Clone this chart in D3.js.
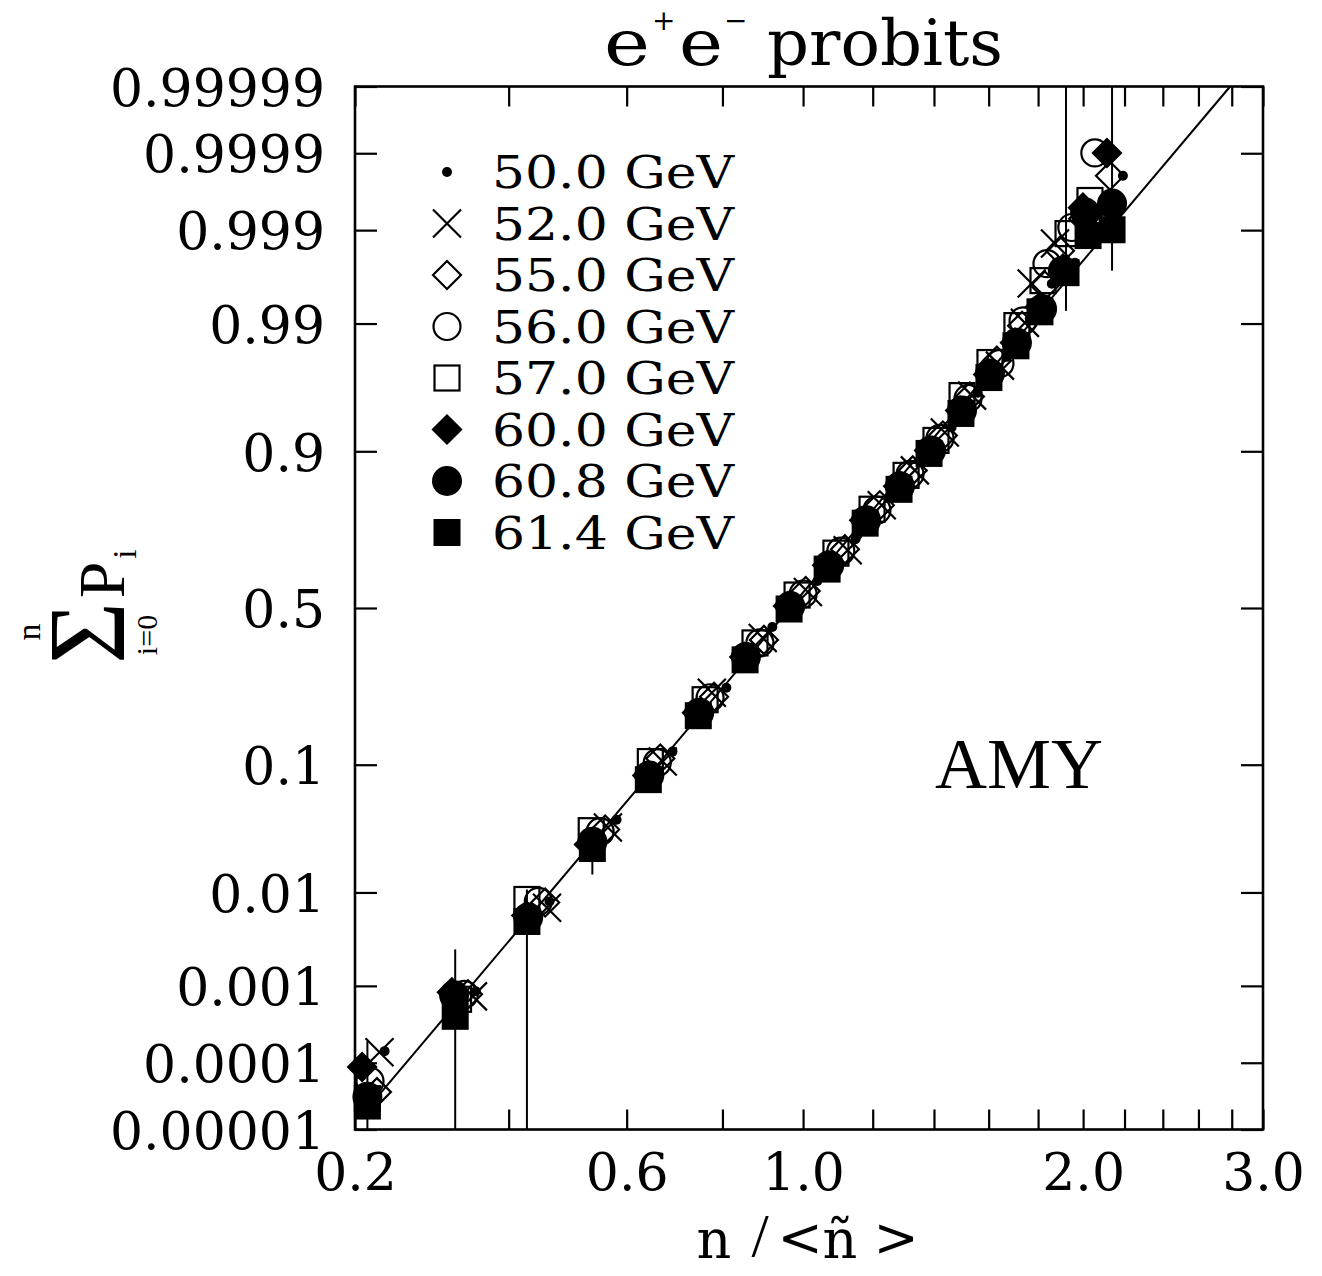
<!DOCTYPE html>
<html><head><meta charset="utf-8">
<script src="https://cdn.jsdelivr.net/npm/d3@7"></script>
<style>body{margin:0;background:#fff}</style>
</head><body>
<svg id="c" width="1322" height="1276" xmlns="http://www.w3.org/2000/svg"></svg>
<script>
// ---------------- data ----------------
const seriesNames = ["50.0 GeV","52.0 GeV","55.0 GeV","56.0 GeV","57.0 GeV","60.0 GeV","60.8 GeV","61.4 GeV"];
const seriesSymbols = ["dot","cross","diamondOpen","circleOpen","squareOpen","diamondFilled","circleFilled","squareFilled"];

// x = n/<n>, y = cumulative probability sum_{i=0}^{n} P_i
const z50 = [0.234,0.352,0.464,0.581,0.691,0.809,0.920,1.039,1.148,1.253,1.361,1.462,1.558,1.671,1.765,1.859,1.962,2.070,2.192];
const p50 = [1.45e-4,8.6e-4,8.2e-3,0.0417,0.1201,0.2571,0.4384,0.5872,0.7132,0.8175,0.8832,0.9301,0.9609,0.9800,0.99098,0.9960,0.99763,0.99935,0.999796];

const z52 = [0.228,0.348,0.460,0.565,0.671,0.776,0.896,1.013,1.125,1.228,1.335,1.438,1.537,1.644,1.745,1.773,1.873];
const p52 = [1.40e-4,7.46e-4,7.12e-3,0.0363,0.1046,0.2439,0.4034,0.5519,0.6819,0.7995,0.8698,0.9244,0.9588,0.97628,0.99015,0.99602,0.99856];

const z55 = [0.225,0.341,0.457,0.560,0.666,0.781,0.899,1.007,1.117,1.222,1.328,1.431,1.529,1.632,1.733,1.829,1.895,2.000,2.128];
const p55 = [3.76e-5,7.9e-4,8.0e-3,0.0350,0.1091,0.2340,0.3971,0.5551,0.6848,0.7995,0.8698,0.9209,0.9581,0.97845,0.9895,0.99582,0.99826,0.99927,0.999796];

const z56 = [0.217,0.336,0.446,0.551,0.660,0.772,0.889,1.000,1.105,1.213,1.319,1.421,1.522,1.644,1.737,1.838,1.948,2.055];
const p56 = [5.45e-5,7.9e-4,8.2e-3,0.0337,0.1031,0.2315,0.3876,0.5455,0.6790,0.7881,0.8629,0.9173,0.9567,0.97725,0.99057,0.99757,0.99907,0.999901];

const z57 = [0.214,0.328,0.428,0.535,0.646,0.761,0.877,0.984,1.091,1.198,1.306,1.407,1.500,1.605,1.712,1.821,1.931,2.032];
const p57 = [3.0e-5,6.87e-4,8.57e-3,0.0343,0.1046,0.2266,0.3876,0.5422,0.6731,0.7904,0.8610,0.9147,0.9588,0.97765,0.98954,0.99629,0.9989,0.99957];

const z60 = [0.208,0.319,0.427,0.531,0.640,0.743,0.851,0.960,1.066,1.174,1.280,1.383,1.493,1.598,1.704,1.808,1.908,1.999,2.113];
const p60 = [8.7e-5,8.36e-4,5.96e-3,0.0265,0.0853,0.1960,0.3446,0.5065,0.6370,0.7636,0.8403,0.9013,0.9469,0.97189,0.9850,0.9931,0.99724,0.99947,0.999901];

const z608 = [0.214,0.322,0.430,0.537,0.644,0.748,0.855,0.966,1.072,1.180,1.286,1.390,1.500,1.605,1.712,1.817,1.908,2.009,2.138];
const p608 = [3.2e-5,7.7e-4,5.69e-3,0.0280,0.0853,0.1960,0.3446,0.5065,0.6370,0.7636,0.8403,0.9013,0.9469,0.97238,0.98497,0.99278,0.9971,0.99939,0.99953];

const z614 = [0.214,0.3235,0.428,0.537,0.642,0.746,0.853,0.963,1.066,1.177,1.283,1.383,1.496,1.601,1.708,1.808,1.922,2.023,2.138];
const p614 = [2.32e-5,4.2e-4,5.18e-3,0.0246,0.0802,0.1892,0.3358,0.4967,0.6248,0.7561,0.8341,0.8969,0.9442,0.97025,0.9840,0.99229,0.99695,0.99884,0.99901];
// error bars (61.4 GeV), null = not visible
const errLo614 = [0,0,0,0.01464,null,null,null,null,null,null,null,null,null,null,null,null,0.99245,null,0.9971];
const errHi614 = [1.98e-4,2.62e-3,1.066e-2,0.0319,null,null,null,null,null,null,null,null,null,null,null,null,1,null,1];

const seriesZ = [z50,z52,z55,z56,z57,z60,z608,z614];
const seriesP = [p50,p52,p55,p56,p57,p60,p608,p614];

// fitted straight line (end points)
const fitZ = [0.215, 2.79];
const fitP = [2.19e-5, 0.99999];

// axes
const xOffset = 0.37;
const xTickValues = [0.2,0.4,0.6,0.8,1.0,1.2,1.4,1.6,1.8,2.0,2.2,2.4,2.6,2.8,3.0];
const xLabelValues = [0.2,0.6,1.0,2.0,3.0];
const xLabelText = ["0.2","0.6","1.0","2.0","3.0"];
const yTickValues = [0.00001,0.0001,0.001,0.01,0.1,0.5,0.9,0.99,0.999,0.9999,0.99999];
const yTickLabels = ["0.00001","0.0001","0.001","0.01","0.1","0.5","0.9","0.99","0.999","0.9999","0.99999"];

// ---------------- helpers ----------------
function probit(p){
  const a=[-3.969683028665376e+01,2.209460984245205e+02,-2.759285104469687e+02,1.383577518672690e+02,-3.066479806614716e+01,2.506628277459239e+00];
  const b=[-5.447609879822406e+01,1.615858368580409e+02,-1.556989798598866e+02,6.680131188771972e+01,-1.328068155288572e+01];
  const c=[-7.784894002430293e-03,-3.223964580411365e-01,-2.400758277161838e+00,-2.549732539343734e+00,4.374664141464968e+00,2.938163982698783e+00];
  const d=[7.784695709041462e-03,3.224671290700398e-01,2.445134137142996e+00,3.754408661907416e+00];
  p = Math.min(Math.max(p,1e-12),1-1e-12);
  const pl=0.02425, ph=1-pl;
  if(p<pl){const q=Math.sqrt(-2*Math.log(p));return (((((c[0]*q+c[1])*q+c[2])*q+c[3])*q+c[4])*q+c[5])/((((d[0]*q+d[1])*q+d[2])*q+d[3])*q+1);}
  if(p<=ph){const q=p-0.5,r=q*q;return (((((a[0]*r+a[1])*r+a[2])*r+a[3])*r+a[4])*r+a[5])*q/(((((b[0]*r+b[1])*r+b[2])*r+b[3])*r+b[4])*r+1);}
  const q=Math.sqrt(-2*Math.log(1-p));return -(((((c[0]*q+c[1])*q+c[2])*q+c[3])*q+c[4])*q+c[5])/((((d[0]*q+d[1])*q+d[2])*q+d[3])*q+1);
}

const svg = d3.select("#c");
const L=355, R=1263, T=86.5, B=1129.5;
const xs = d3.scaleLog().domain([xTickValues[0]+xOffset, xTickValues[xTickValues.length-1]+xOffset]).range([L,R]);
const X = z => xs(z + xOffset);
const ys = d3.scaleLinear().domain([probit(yTickValues[0]), probit(yTickValues[yTickValues.length-1])]).range([B,T]).clamp(true);
const Y = p => ys(probit(p));

const INK = "#000";
const numFont = "'DejaVu Serif', serif";

function marker(g, type, cx, cy){
  const sw = 2.2;
  switch(type){
    case "dot": g.append("circle").attr("cx",cx).attr("cy",cy).attr("r",5).attr("fill",INK); break;
    case "cross": {
      const h=14;
      g.append("path").attr("d",`M${cx-h},${cy-h}L${cx+h},${cy+h}M${cx-h},${cy+h}L${cx+h},${cy-h}`).attr("stroke",INK).attr("stroke-width",sw).attr("fill","none"); break; }
    case "diamondOpen": case "diamondFilled": {
      const h=14;
      g.append("path").attr("d",`M${cx},${cy-h}L${cx+h},${cy}L${cx},${cy+h}L${cx-h},${cy}Z`)
        .attr("fill", type==="diamondFilled"?INK:"none").attr("stroke",INK).attr("stroke-width",sw); break; }
    case "circleOpen": g.append("circle").attr("cx",cx).attr("cy",cy).attr("r",13.5).attr("fill","none").attr("stroke",INK).attr("stroke-width",sw); break;
    case "circleFilled": g.append("circle").attr("cx",cx).attr("cy",cy).attr("r",15).attr("fill",INK); break;
    case "squareOpen": { const h=12.5; g.append("rect").attr("x",cx-h).attr("y",cy-h).attr("width",2*h).attr("height",2*h).attr("fill","none").attr("stroke",INK).attr("stroke-width",sw); break; }
    case "squareFilled": { const h=13.5; g.append("rect").attr("x",cx-h).attr("y",cy-h).attr("width",2*h).attr("height",2*h).attr("fill",INK); break; }
  }
}

// ---------------- axes ----------------
const gx = svg.append("g").attr("transform",`translate(0,${B})`)
  .call(d3.axisBottom(xs).tickValues(xTickValues.map(v=>v+xOffset)).tickSize(-20).tickPadding(0)
    .tickFormat(v=>{const i=xLabelValues.findIndex(l=>Math.abs(l+xOffset-v)<1e-6);return i>=0?xLabelText[i]:"";}));
gx.select(".domain").remove();
gx.selectAll(".tick line").attr("stroke",INK).attr("stroke-width",2.2);
gx.selectAll(".tick text").attr("y",60).attr("dy",0).attr("font-family",numFont).attr("font-size",52).attr("fill",INK);

const gxt = svg.append("g").attr("transform",`translate(0,${T})`)
  .call(d3.axisTop(xs).tickValues(xTickValues.map(v=>v+xOffset)).tickSize(-20).tickFormat(""));
gxt.select(".domain").remove();
gxt.selectAll(".tick line").attr("stroke",INK).attr("stroke-width",2.2);

const gy = svg.append("g").attr("transform",`translate(${L},0)`)
  .call(d3.axisLeft(ys).tickValues(yTickValues.map(probit)).tickSize(-22).tickPadding(30)
    .tickFormat((d,i)=>yTickLabels[i]));
gy.select(".domain").remove();
gy.selectAll(".tick line").attr("stroke",INK).attr("stroke-width",2.2);
gy.selectAll(".tick text").attr("dy","0.36em").attr("font-family",numFont).attr("font-size",52).attr("fill",INK);

const gyr = svg.append("g").attr("transform",`translate(${R},0)`)
  .call(d3.axisRight(ys).tickValues(yTickValues.map(probit)).tickSize(-22).tickFormat(""));
gyr.select(".domain").remove();
gyr.selectAll(".tick line").attr("stroke",INK).attr("stroke-width",2.2);

svg.append("rect").attr("x",L).attr("y",T).attr("width",R-L).attr("height",B-T)
  .attr("fill","none").attr("stroke",INK).attr("stroke-width",2.6);

// ---------------- fit line ----------------
const plot = svg.append("g");
plot.append("path").datum(fitZ.map((z,i)=>[z,fitP[i]]))
  .attr("d", d3.line().x(d=>X(d[0])).y(d=>Y(d[1])))
  .attr("fill","none").attr("stroke",INK).attr("stroke-width",2);

// error bars
z614.forEach((z,i)=>{
  if(errLo614[i]===null) return;
  plot.append("line").attr("x1",X(z)).attr("x2",X(z)).attr("y1",Y(errLo614[i])).attr("y2",Y(errHi614[i]))
    .attr("stroke",INK).attr("stroke-width",2);
});

// markers
seriesZ.forEach((zs,s)=>{
  const g = plot.append("g");
  zs.forEach((z,i)=> marker(g, seriesSymbols[s], X(z), Y(seriesP[s][i])));
});

// ---------------- legend ----------------
const lg = svg.append("g");
seriesNames.forEach((name,i)=>{
  const cy = 172 + i*51.5;
  marker(lg, seriesSymbols[i], 447, cy);
  lg.append("text").attr("x",492).attr("y",cy+16).text(name)
    .attr("font-family",numFont).attr("font-size",44).attr("textLength",242).attr("lengthAdjust","spacingAndGlyphs").attr("fill",INK);
});

// ---------------- texts ----------------
const serif = "'DejaVu Serif', serif";
const title = svg.append("text").attr("font-family",serif).attr("fill",INK).attr("font-size",64);
title.append("tspan").attr("x",604).attr("y",65).attr("textLength",46).attr("lengthAdjust","spacingAndGlyphs").text("e");
title.append("tspan").attr("x",652).attr("y",30).attr("font-size",28).text("+");
title.append("tspan").attr("x",679).attr("y",65).attr("textLength",44).attr("lengthAdjust","spacingAndGlyphs").text("e");
title.append("tspan").attr("x",724).attr("y",30).attr("font-size",28).text("\u2212");
title.append("tspan").attr("x",767).attr("y",65).attr("textLength",236).attr("lengthAdjust","spacingAndGlyphs").text("probits");

// x label n/<ñ>
const xl = svg.append("g").attr("font-family",serif).attr("fill",INK);
xl.append("text").attr("x",714).attr("y",1258).attr("text-anchor","middle").attr("font-size",54).text("n");
xl.append("text").attr("x",760).attr("y",1256).attr("text-anchor","middle").attr("font-size",62).attr("font-family","'Liberation Serif', serif").text("/");
xl.append("text").attr("x",800).attr("y",1256).attr("text-anchor","middle").attr("font-size",54).text("<");
xl.append("text").attr("x",840).attr("y",1258).attr("text-anchor","middle").attr("font-size",54).text("\u00f1");
xl.append("text").attr("x",896).attr("y",1256).attr("text-anchor","middle").attr("font-size",54).text(">");

// AMY
svg.append("text").attr("x",935).attr("y",788).attr("font-family","'Liberation Serif', serif").attr("font-size",72).attr("fill",INK).text("AMY");

// y label (rotated)
const yl = svg.append("g").attr("transform","rotate(-90)").attr("font-family","'Liberation Serif', serif").attr("fill",INK);
yl.append("text").attr("x",-633).attr("y",124).attr("text-anchor","middle").attr("font-size",110).attr("textLength",62).attr("lengthAdjust","spacingAndGlyphs").text("\u03a3");
yl.append("text").attr("x",-632).attr("y",40).attr("text-anchor","middle").attr("font-size",34).text("n");
yl.append("text").attr("x",-635).attr("y",157).attr("text-anchor","middle").attr("font-size",30).text("i=0");
yl.append("text").attr("x",-580).attr("y",124).attr("text-anchor","middle").attr("font-size",66).text("P");
yl.append("text").attr("x",-554).attr("y",136).attr("text-anchor","middle").attr("font-size",34).text("i");
</script>
</body></html>
